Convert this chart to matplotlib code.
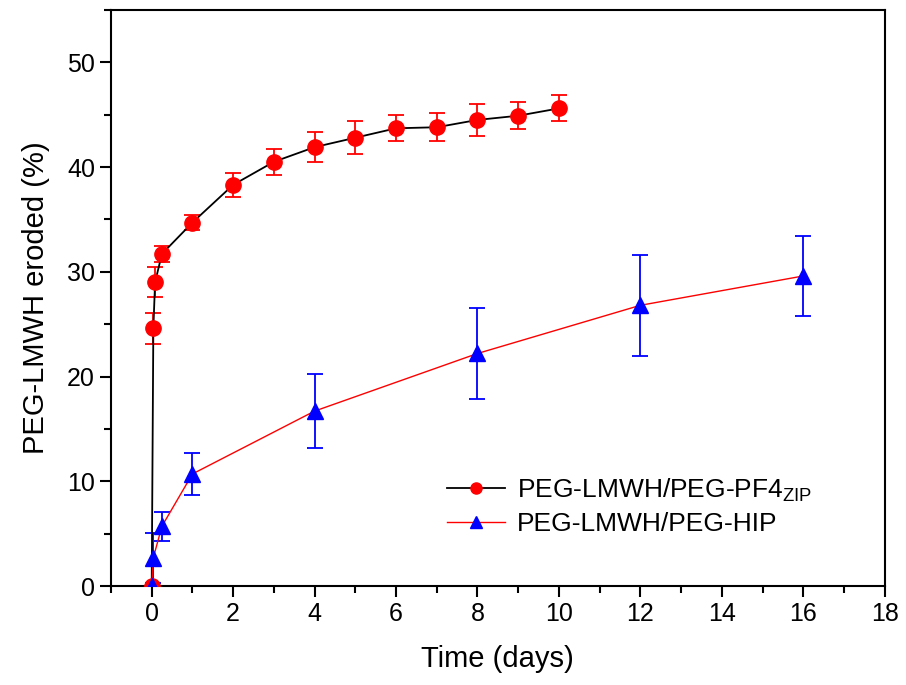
import numpy as np
import matplotlib
matplotlib.use("Agg")
import matplotlib.pyplot as plt
from matplotlib.ticker import MultipleLocator
from matplotlib.lines import Line2D

plt.rcParams["font.family"] = ["Liberation Sans", "DejaVu Sans"]

# PEG-LMWH/PEG-PF4zip
zip_t = [0, 0.04, 0.083, 0.25, 1, 2, 3, 4, 5, 6, 7, 8, 9, 10]
zip_y = [0, 24.6, 29.0, 31.7, 34.7, 38.3, 40.5, 41.9, 42.8, 43.7, 43.8, 44.5, 44.9, 45.6]
zip_err = [0, 1.5, 1.45, 0.8, 0.75, 1.15, 1.25, 1.45, 1.55, 1.25, 1.35, 1.55, 1.3, 1.25]

# PEG-LMWH/PEG-HIP
hip_t = [0, 0.04, 0.25, 1, 4, 8, 12, 16]
hip_y = [0, 2.7, 5.7, 10.7, 16.7, 22.2, 26.8, 29.6]
hip_err = [0, 2.4, 1.4, 2.0, 3.5, 4.3, 4.8, 3.8]

fig = plt.figure(figsize=(9.06, 6.85), dpi=100)
ax = fig.add_axes([0.1225, 0.1445, 0.854, 0.841])

ax.errorbar(zip_t, zip_y, yerr=zip_err, fmt="none", ecolor="red", elinewidth=1.3,
            capsize=6, capthick=1.3, zorder=2)
ax.plot(zip_t, zip_y, "-", color="black", lw=1.3, zorder=3)
ax.plot(zip_t, zip_y, "o", color="red", ms=11, zorder=4)

ax.errorbar(hip_t, hip_y, yerr=hip_err, fmt="none", ecolor="blue", elinewidth=1.3,
            capsize=6, capthick=1.3, zorder=2)
ax.plot(hip_t, hip_y, "-", color="red", lw=1.0, zorder=3)
ax.plot(hip_t, hip_y, "^", color="blue", ms=12, zorder=5)

# legend handles combining line + marker
h1 = Line2D([], [], color="black", lw=1.3, marker="o", mfc="red", mec="red", ms=8)
h2 = Line2D([], [], color="red", lw=1.0, marker="^", mfc="blue", mec="blue", ms=8)
ax.legend([h1, h2], [r"PEG-LMWH/PEG-PF4$_{\mathregular{ZIP}}$", "PEG-LMWH/PEG-HIP"],
          loc="upper left", bbox_to_anchor=(0.434, 0.19), borderpad=0, borderaxespad=0,
          frameon=False, fontsize=19, handlelength=2.2, handletextpad=0.45,
          labelspacing=0.3)

ax.set_xlim(-1, 18)
ax.set_ylim(0, 55)
ax.set_xticks(range(0, 19, 2))
ax.set_yticks(range(0, 51, 10))
ax.xaxis.set_minor_locator(MultipleLocator(1))
ax.yaxis.set_minor_locator(MultipleLocator(5))
ax.tick_params(which="major", direction="out", length=8, width=1.5, labelsize=18)
ax.tick_params(which="minor", direction="out", length=5, width=1.5)
for s in ax.spines.values():
    s.set_linewidth(1.5)

ax.set_xlabel("Time (days)", fontsize=21, labelpad=14)
ax.set_ylabel("PEG-LMWH eroded (%)", fontsize=21, labelpad=12)

fig.savefig("out.png", dpi=100)
